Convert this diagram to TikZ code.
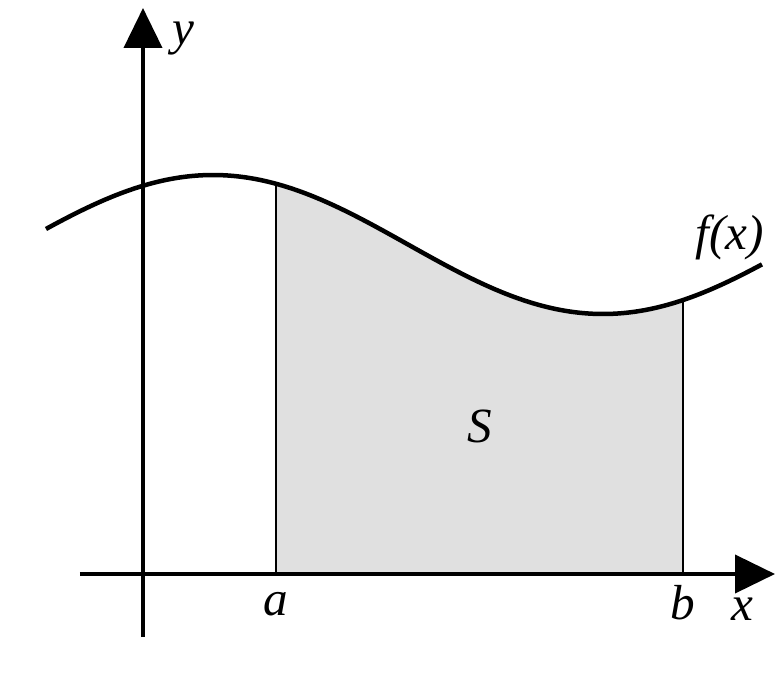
\documentclass[tikz,border=0pt]{standalone}
\usepackage{fontspec}
\setmainfont{Liberation Serif}
\usetikzlibrary{arrows.meta}
\definecolor{areagray}{gray}{0.88}

\begin{document}
\begin{tikzpicture}[
    axis/.style={line width=0.08cm,-{Triangle[length=0.8cm,width=0.76cm]}},
    lbl/.style={font=\fontsize{28}{32}\selectfont\itshape},
    declare function={f(\x)=6.59+1.39*cos(2*pi*(\x-1.4)/15.6 r);}]
    \useasboundingbox(-2.86,-2.22)rectangle(12.78,11.48);
    % area under the curve
    \fill[areagray](2.66,0)--plot[smooth,domain=2.66:10.8,samples=60](\x,{f(\x)})--(10.8,0)--cycle;
    \coordinate(a)at(2.66,0);
    \coordinate(fa)at(2.66,{f(2.66)});
    \coordinate(b)at(10.8,0);
    \coordinate(fb)at(10.8,{f(10.8)});
    \draw[line width=0.04cm](a)--(fa);
    \draw[line width=0.04cm](b)--(fb);
    % axes
    \coordinate(xs)at(-1.26,0);
    \coordinate(xe)at(12.64,0);
    \coordinate(ys)at(0,-1.26);
    \coordinate(ye)at(0,11.32);
    \draw[axis](xs)--(xe);
    \draw[axis](ys)--(ye);
    \draw[line width=0.09cm,smooth,domain=-1.94:12.38,samples=80]plot(\x,{f(\x)});
    \node[lbl](ylbl)at(0.8,10.7){y};
    \node[lbl](xlbl)at(11.98,-0.7){x};
    \node[lbl](albl)at(2.66,-0.6){a};
    \node[lbl](blbl)at(10.8,-0.58){b};
    \node[lbl](slbl)at(6.74,2.96){S};
    \node[lbl](flbl)at(11.74,6.74){f(x)};
\end{tikzpicture}
\end{document}
